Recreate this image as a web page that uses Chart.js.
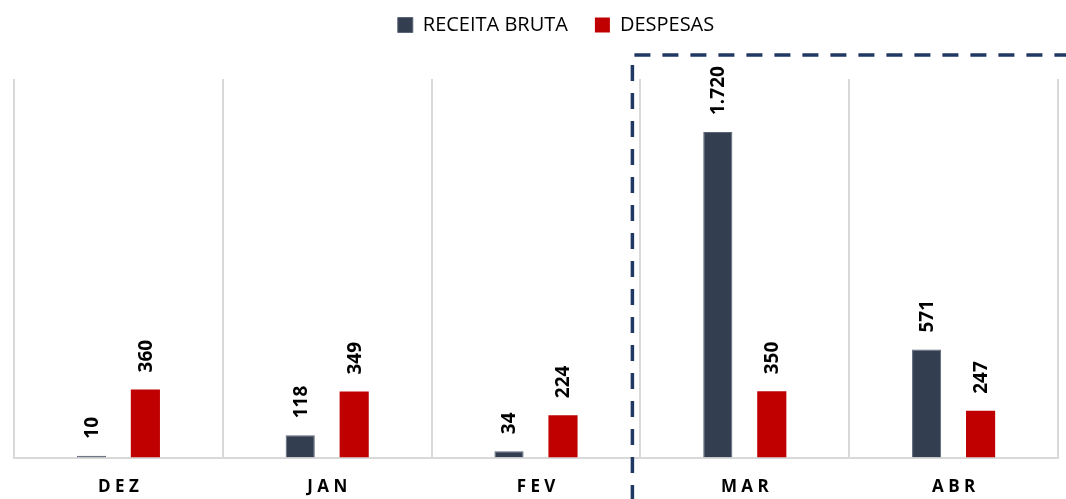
<!DOCTYPE html>
<html>
<head>
<meta charset="utf-8">
<script src="https://cdn.jsdelivr.net/npm/chart.js@4.4.0/dist/chart.umd.min.js"></script>
<style>
  html, body { margin: 0; padding: 0; background: #fff; }
  #wrap { width: 1066px; height: 499px; }
</style>
</head>
<body>
<div id="wrap"><canvas id="grafico"></canvas></div>
<script>
// Dados do gráfico
const meses = ['DEZ', 'JAN', 'FEV', 'MAR', 'ABR'];
const receitaBruta = [10, 118, 34, 1720, 571];
const despesas = [360, 349, 224, 350, 247];

const fonte = "'Open Sans', 'Liberation Sans', sans-serif";

// Formata números no padrão brasileiro (1.720)
function formatar(v) {
    return v.toLocaleString('pt-BR');
}

// Aumenta o espaço abaixo da legenda e desloca a legenda um pouco para a direita
const espacoLegenda = {
    id: 'espacoLegenda',
    beforeInit(chart) {
        const fitOriginal = chart.legend.fit;
        chart.legend.fit = function() {
            fitOriginal.bind(chart.legend)();
            this.height += 34;
        };
    },
    afterLayout(chart) {
        chart.legend.left += 20;
        chart.legend.right += 20;
    }
};

// Plugin para escrever os valores acima das barras (texto vertical)
const rotulosPlugin = {
    id: 'rotulos',
    afterDatasetsDraw(chart) {
        const ctx = chart.ctx;
        ctx.save();
        ctx.font = 'bold 19px ' + fonte;
        ctx.fillStyle = '#000';
        ctx.textAlign = 'left';
        ctx.textBaseline = 'middle';
        chart.data.datasets.forEach((ds, i) => {
            chart.getDatasetMeta(i).data.forEach((bar, j) => {
                ctx.save();
                ctx.translate(bar.x + 1, bar.y - 17);
                ctx.rotate(-Math.PI / 2);
                ctx.fillText(formatar(ds.data[j]), 0, 0);
                ctx.restore();
            });
        });
        ctx.restore();
    }
};

// Plugin para a linha tracejada que destaca MAR e ABR
const destaquePlugin = {
    id: 'destaque',
    afterDraw(chart) {
        const ctx = chart.ctx;
        const x = chart.scales.x;
        const xDiv = (x.getPixelForTick(2) + x.getPixelForTick(3)) / 2 - 8;
        ctx.save();
        ctx.strokeStyle = '#1f3864';
        ctx.lineWidth = 3.5;
        ctx.setLineDash([16, 12]);
        ctx.beginPath();
        ctx.moveTo(xDiv + 2, 55);
        ctx.lineTo(chart.width, 55);
        ctx.stroke();
        ctx.beginPath();
        ctx.moveTo(xDiv, 65);
        ctx.lineTo(xDiv, chart.height);
        ctx.stroke();
        ctx.restore();
    }
};

const ctx = document.getElementById('grafico').getContext('2d');
new Chart(ctx, {
    type: 'bar',
    data: {
        labels: meses,
        datasets: [
            {
                label: 'RECEITA BRUTA',
                data: receitaBruta,
                backgroundColor: '#333f50',
                borderColor: '#5a6578',
                borderWidth: 1,
                barPercentage: 0.54,
                categoryPercentage: 0.517
            },
            {
                label: 'DESPESAS',
                data: despesas,
                backgroundColor: '#c00000',
                borderWidth: 0,
                barPercentage: 0.54,
                categoryPercentage: 0.517
            }
        ]
    },
    options: {
        responsive: true,
        maintainAspectRatio: false,
        animation: false,
        layout: { padding: { left: 14, right: 8, top: -12, bottom: -17 } },
        plugins: {
            legend: {
                position: 'top',
                labels: {
                    boxWidth: 15,
                    boxHeight: 15,
                    padding: 27,
                    color: '#000',
                    font: { family: fonte, size: 20 }
                }
            },
            tooltip: { enabled: false }
        },
        scales: {
            x: {
                grid: { color: '#d9d9d9', lineWidth: 2, drawTicks: false },
                border: { color: '#d9d9d9', width: 2 },
                ticks: {
                    color: '#000',
                    padding: 19,
                    font: { family: fonte, size: 17, weight: 'bold' },
                    callback: function(v) { return this.getLabelForValue(v).split('').join(' '); }
                }
            },
            y: {
                display: false,
                min: 0,
                max: 2000
            }
        }
    },
    plugins: [espacoLegenda, rotulosPlugin, destaquePlugin]
});
</script>
</body>
</html>
